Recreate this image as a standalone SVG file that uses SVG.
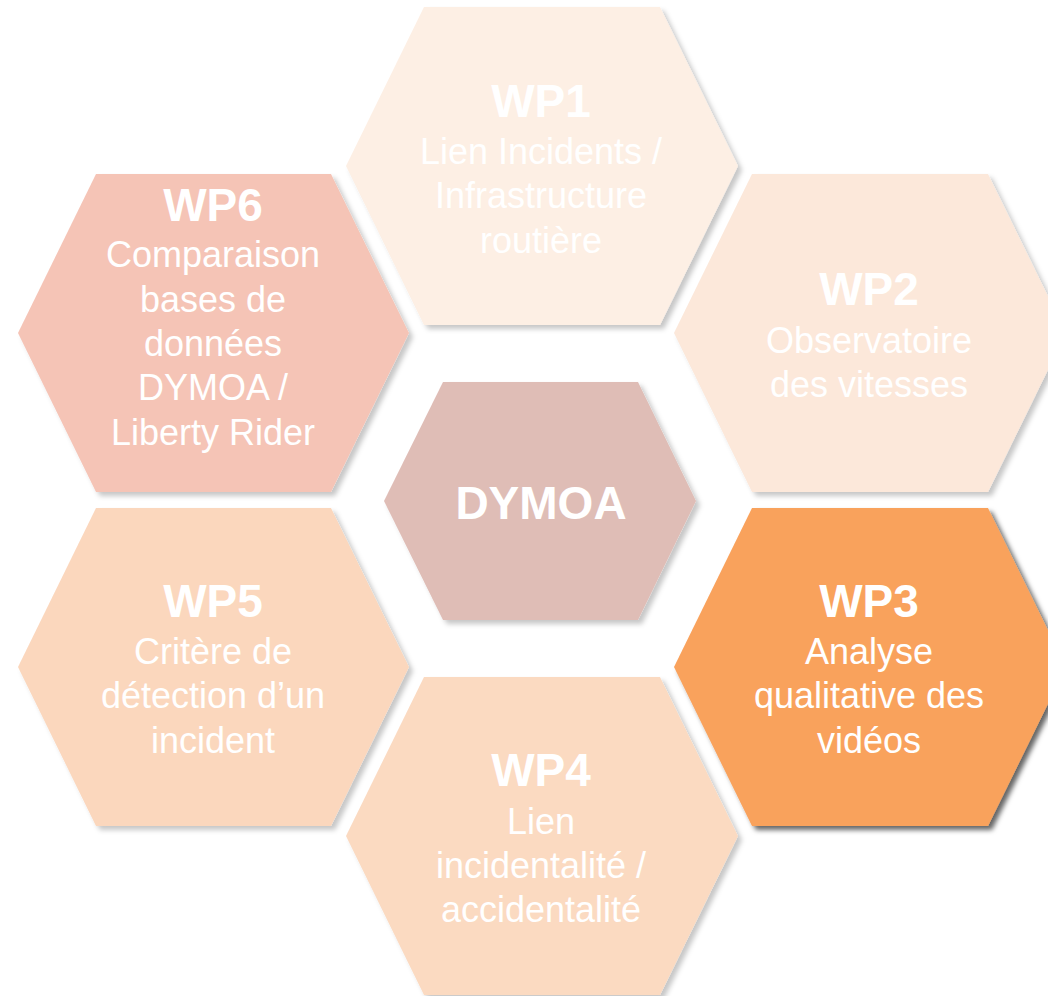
<svg xmlns="http://www.w3.org/2000/svg" width="1048" height="996" viewBox="0 0 1048 996">
<defs>
<filter id="sh" x="-10%" y="-10%" width="125%" height="125%"><feDropShadow dx="4" dy="4" stdDeviation="2.5" flood-color="#000" flood-opacity="0.22"/></filter>
<filter id="sh2" x="-10%" y="-10%" width="125%" height="125%"><feDropShadow dx="4" dy="4" stdDeviation="2.5" flood-color="#000" flood-opacity="0.6"/></filter>
</defs>
<style>
text{font-family:"Liberation Sans",Arial,sans-serif;fill:#fff;text-anchor:middle}
.t{font-size:46px;font-weight:bold}
.b{font-size:36px}
</style>
<rect width="1048" height="996" fill="#fff"/>
<g id="connectors"/>
<g id="wp1"><polygon points="424,7 660,7 738,166 660,325 424,325 346,166" fill="#fdefe4" filter="url(#sh)"/>
<text class="t" x="541" y="117">WP1</text><text class="b" x="541" y="164">Lien Incidents /</text><text class="b" x="541" y="208">Infrastructure</text><text class="b" x="541" y="253">routière</text></g>
<g id="wp2"><polygon points="752,174 988,174 1066,333 988,492 752,492 674,333" fill="#fce8da" filter="url(#sh)"/>
<text class="t" x="869" y="305">WP2</text><text class="b" x="869" y="353">Observatoire</text><text class="b" x="869" y="397">des vitesses</text></g>
<g id="wp3"><polygon points="752,508 988,508 1066,667 988,826 752,826 674,667" fill="#f9a25c" filter="url(#sh2)"/>
<text class="t" x="869" y="617">WP3</text><text class="b" x="869" y="664">Analyse</text><text class="b" x="869" y="708">qualitative des</text><text class="b" x="869" y="753">vidéos</text></g>
<g id="wp4"><polygon points="424,677 660,677 738,836 660,995 424,995 346,836" fill="#fbdac1" filter="url(#sh)"/>
<text class="t" x="541" y="786">WP4</text><text class="b" x="541" y="834">Lien</text><text class="b" x="541" y="878">incidentalité /</text><text class="b" x="541" y="922">accidentalité</text></g>
<g id="wp5"><polygon points="96,508 331,508 409,667 331,826 96,826 18,667" fill="#fbd7bd" filter="url(#sh)"/>
<text class="t" x="213" y="617">WP5</text><text class="b" x="213" y="664">Critère de</text><text class="b" x="213" y="708">détection d’un</text><text class="b" x="213" y="753">incident</text></g>
<g id="wp6"><polygon points="96,174 331,174 409,333 331,492 96,492 18,333" fill="#f5c4b6" filter="url(#sh)"/>
<text class="t" x="213" y="221">WP6</text><text class="b" x="213" y="267">Comparaison</text><text class="b" x="213" y="312">bases de</text><text class="b" x="213" y="356">données</text><text class="b" x="213" y="400">DYMOA /</text><text class="b" x="213" y="445">Liberty Rider</text></g>
<g id="dymoa"><polygon points="443,382 638,382 696,501 638,620 443,620 384,501" fill="#dfbdb6" filter="url(#sh)"/>
<text class="t" x="541" y="519">DYMOA</text></g>
</svg>
